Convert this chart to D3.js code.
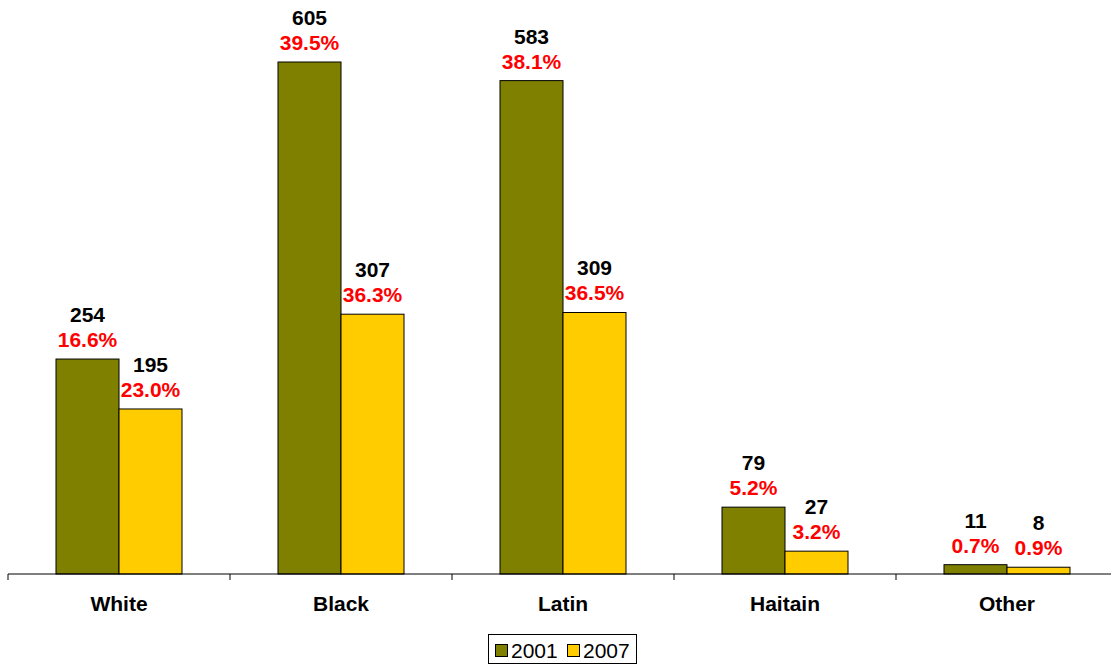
<!DOCTYPE html>
<html><head><meta charset="utf-8">
<script src="https://cdn.jsdelivr.net/npm/d3@7"></script>
<style>body{margin:0;background:#fff}svg{display:block}</style>
</head><body>
<svg id="chart" width="1111" height="666"></svg>
<script>
const categories = ["White", "Black", "Latin", "Haitain", "Other"];
const seriesNames = ["2001", "2007"];
const values2001 = [254, 605, 583, 79, 11];
const values2007 = [195, 307, 309, 27, 8];
const pct2001 = ["16.6%", "39.5%", "38.1%", "5.2%", "0.7%"];
const pct2007 = ["23.0%", "36.3%", "36.5%", "3.2%", "0.9%"];
const colors = ["#808000", "#FFCC00"];

const svg = d3.select("#chart");
const font = "Liberation Sans, Arial, sans-serif";
const baseY = 574;

const x0 = d3.scaleBand().domain(categories).range([8, 1118]).padding(0);
const x1 = d3.scaleBand().domain(seriesNames).range([0, x0.bandwidth()]).paddingInner(0).paddingOuter(0.762);
const y = d3.scaleLinear().domain([0, 605]).range([baseY, 62]);

const data = [values2001, values2007];
const pcts = [pct2001, pct2007];

seriesNames.forEach((s, si) => {
  const g = svg.append("g");
  g.selectAll("rect").data(categories).join("rect")
    .attr("x", c => x0(c) + x1(s))
    .attr("y", (c, i) => y(data[si][i]))
    .attr("width", x1.bandwidth())
    .attr("height", (c, i) => baseY - y(data[si][i]))
    .attr("fill", colors[si])
    .attr("stroke", "#000").attr("stroke-width", 1);
  g.selectAll("text.v").data(categories).join("text").attr("class", "v")
    .attr("x", c => x0(c) + x1(s) + x1.bandwidth() / 2)
    .attr("y", (c, i) => y(data[si][i]) - 37)
    .attr("text-anchor", "middle")
    .attr("font-family", font).attr("font-weight", "bold").attr("font-size", 21)
    .attr("fill", "#000")
    .text((c, i) => data[si][i]);
  g.selectAll("text.p").data(categories).join("text").attr("class", "p")
    .attr("x", c => x0(c) + x1(s) + x1.bandwidth() / 2)
    .attr("y", (c, i) => y(data[si][i]) - 12)
    .attr("text-anchor", "middle")
    .attr("font-family", font).attr("font-weight", "bold").attr("font-size", 21)
    .attr("fill", "#FF0000")
    .text((c, i) => pcts[si][i]);
});

// axis
const axisG = svg.append("g").attr("transform", `translate(0,${baseY})`);
axisG.append("line").attr("x1", 8).attr("x2", 1111).attr("y1", 0).attr("y2", 0).attr("stroke", "#000");
const tickXs = categories.map(c => x0(c));
axisG.selectAll("line.t").data(tickXs).join("line").attr("class", "t")
  .attr("x1", d => d).attr("x2", d => d).attr("y1", 0).attr("y2", 6).attr("stroke", "#000");
axisG.selectAll("text").data(categories).join("text")
  .attr("x", c => x0(c) + x0.bandwidth() / 2)
  .attr("y", 37)
  .attr("text-anchor", "middle")
  .attr("font-family", font).attr("font-weight", "bold").attr("font-size", 21)
  .text(c => c);

// legend
const lg = svg.append("g");
lg.append("rect").attr("x", 488.5).attr("y", 634.5).attr("width", 148).attr("height", 29)
  .attr("fill", "#fff").attr("stroke", "#000");
const lx = [495, 567];
seriesNames.forEach((s, i) => {
  lg.append("rect").attr("x", lx[i] + 0.5).attr("y", 644.5).attr("width", 12).attr("height", 12)
    .attr("fill", colors[i]).attr("stroke", "#000");
  lg.append("text").attr("x", lx[i] + 16).attr("y", 658)
    .attr("font-family", font).attr("font-size", 21).text(s);
});
</script>
</body></html>
